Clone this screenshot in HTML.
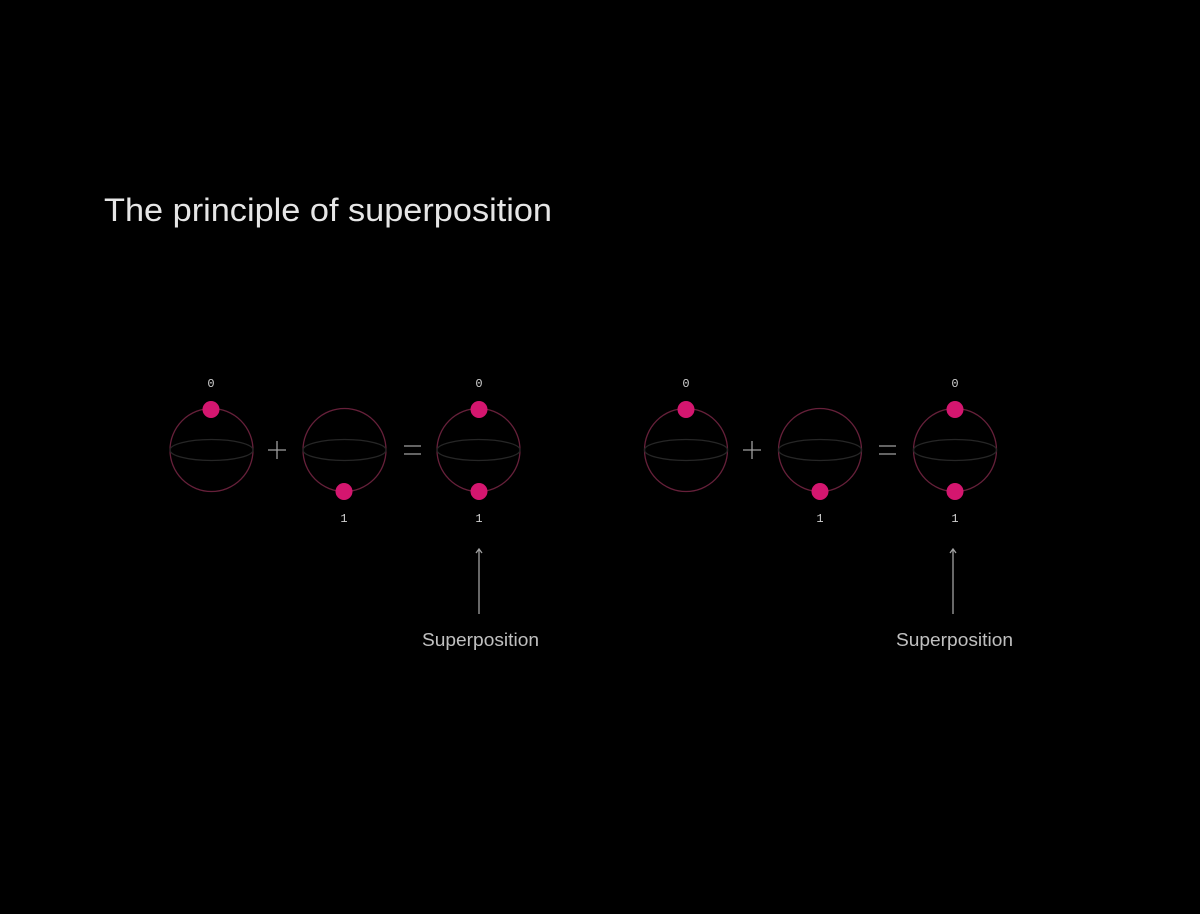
<!DOCTYPE html>
<html><head><meta charset="utf-8"><style>
html,body{margin:0;padding:0;background:#000;}
svg{display:block;}
</style></head><body>
<svg width="1200" height="914" viewBox="0 0 1200 914" xmlns="http://www.w3.org/2000/svg">
<rect width="1200" height="914" fill="#000"/>
<text x="104" y="221" font-family="Liberation Sans, sans-serif" font-size="32" fill="#e6e6e6" textLength="448" lengthAdjust="spacingAndGlyphs">The principle of superposition</text>
<g font-family="Liberation Mono, monospace" font-size="12" fill="#d0d0d0" text-anchor="middle">
<text x="211" y="387">0</text>
<text x="344" y="522">1</text>
<text x="479" y="387">0</text>
<text x="479" y="522">1</text>
<text x="686" y="387">0</text>
<text x="820" y="522">1</text>
<text x="955" y="387">0</text>
<text x="955" y="522">1</text>
</g>
<g fill="none">
<circle cx="211.5" cy="450" r="41.5" stroke="#66203a" stroke-width="1.3"/>
<ellipse cx="211.5" cy="450" rx="41.5" ry="10.5" stroke="#262626" stroke-width="1.3"/>
<circle cx="344.5" cy="450" r="41.5" stroke="#66203a" stroke-width="1.3"/>
<ellipse cx="344.5" cy="450" rx="41.5" ry="10.5" stroke="#262626" stroke-width="1.3"/>
<circle cx="478.5" cy="450" r="41.5" stroke="#66203a" stroke-width="1.3"/>
<ellipse cx="478.5" cy="450" rx="41.5" ry="10.5" stroke="#262626" stroke-width="1.3"/>
<circle cx="686" cy="450" r="41.5" stroke="#66203a" stroke-width="1.3"/>
<ellipse cx="686" cy="450" rx="41.5" ry="10.5" stroke="#262626" stroke-width="1.3"/>
<circle cx="820" cy="450" r="41.5" stroke="#66203a" stroke-width="1.3"/>
<ellipse cx="820" cy="450" rx="41.5" ry="10.5" stroke="#262626" stroke-width="1.3"/>
<circle cx="955" cy="450" r="41.5" stroke="#66203a" stroke-width="1.3"/>
<ellipse cx="955" cy="450" rx="41.5" ry="10.5" stroke="#262626" stroke-width="1.3"/>
</g>
<g fill="#d4166f">
<circle cx="211" cy="409.5" r="8.5"/>
<circle cx="344" cy="491.5" r="8.5"/>
<circle cx="479" cy="409.5" r="8.5"/>
<circle cx="479" cy="491.5" r="8.5"/>
<circle cx="686" cy="409.5" r="8.5"/>
<circle cx="820" cy="491.5" r="8.5"/>
<circle cx="955" cy="409.5" r="8.5"/>
<circle cx="955" cy="491.5" r="8.5"/>
</g>
<g stroke="#a0a0a0" stroke-width="1.3" fill="none">
<path d="M268 450H286M277 441V459"/>
<path d="M404 446H421M404 454H421"/>
<path d="M743 450H761M752 441V459"/>
<path d="M879 446H896M879 454H896"/>
<path d="M479 614V549M476 553L479 549L482 553"/>
<path d="M953 614V549M950 553L953 549L956 553"/>
</g>
<g font-family="Liberation Sans, sans-serif" font-size="18" fill="#c0c0c0">
<text x="422" y="646" textLength="117" lengthAdjust="spacingAndGlyphs">Superposition</text>
<text x="896" y="646" textLength="117" lengthAdjust="spacingAndGlyphs">Superposition</text>
</g>
</svg>
</body></html>
